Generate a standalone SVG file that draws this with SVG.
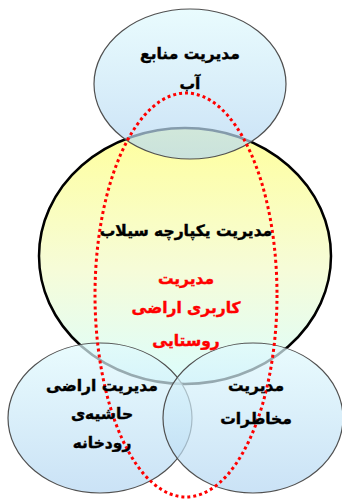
<svg xmlns="http://www.w3.org/2000/svg" width="342" height="499" viewBox="0 0 342 499">
<defs>
<linearGradient id="gBlue" x1="0" y1="0" x2="0" y2="1">
<stop offset="0" stop-color="#e0fafd"/>
<stop offset="1" stop-color="#b4d6f2"/>
</linearGradient>
<linearGradient id="gBig" x1="0" y1="0" x2="0" y2="1">
<stop offset="0" stop-color="#ffff9c"/>
<stop offset="0.55" stop-color="#f6fcd8"/>
<stop offset="1" stop-color="#dcfdfd"/>
</linearGradient>
<style>
.soft{fill:url(#gBlue);fill-opacity:0.7;stroke:#505050;stroke-width:1.2}
.t{font-family:"DejaVu Sans",sans-serif;font-weight:bold;font-size:15.5px;text-anchor:middle;fill:#000;stroke:#000;stroke-width:0.4}
.r{fill:#ff0000;stroke:#ff0000}
</style>
</defs>
<g id="big">
<ellipse cx="185" cy="256" rx="146" ry="128" fill="url(#gBig)" stroke="#000" stroke-width="2.5"/>
</g>
<g id="water">
<ellipse class="soft" cx="190" cy="84" rx="96" ry="75"/>
</g>
<g id="riverside">
<ellipse class="soft" cx="100" cy="418" rx="92" ry="75"/>
</g>
<g id="hazards">
<ellipse class="soft" cx="253" cy="418" rx="90" ry="75"/>
</g>
<g id="connectors">
<ellipse cx="186" cy="295" rx="91" ry="202" fill="none" stroke="#ff0000" stroke-width="3" stroke-dasharray="3 3"/>
</g>
<g id="labels">
<text class="t" x="190" y="59">مدیریت منابع</text>
<text class="t" x="190" y="89">آب</text>
<text class="t" x="186" y="236">مدیریت یکپارچه سیلاب</text>
<text class="t r" x="186" y="284">مدیریت</text>
<text class="t r" x="186" y="313">کاربری اراضی</text>
<text class="t r" x="186" y="346">روستایی</text>
<text class="t" x="102" y="391">مدیریت اراضی</text>
<text class="t" x="102" y="419">حاشیه‌ی</text>
<text class="t" x="102" y="448">رودخانه</text>
<text class="t" x="256" y="391">مدیریت</text>
<text class="t" x="256" y="424">مخاطرات</text>
</g>
</svg>
